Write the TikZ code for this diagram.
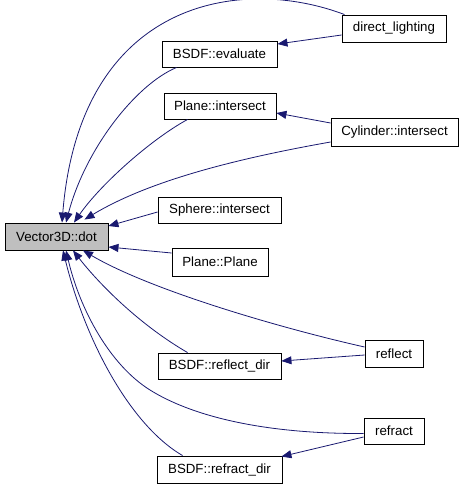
\documentclass[tikz,border=0pt]{standalone}
\usepackage{fontspec}
\setmainfont{Liberation Sans}
\usepackage{tikz}
\usetikzlibrary{arrows.meta,calc}
\definecolor{dxblue}{HTML}{191970}
\definecolor{dxgry}{HTML}{BFBFBF}
\tikzset{
  fnbox/.style  ={draw=black, line width=0.9pt, fill=white, inner sep=0pt,
                  minimum height=27pt, font=\fontsize{13.3}{15}\selectfont},
  rootbox/.style={fnbox, fill=dxgry},
  call/.style   ={-{Triangle[length=10pt,width=8pt]}, line width=0.8pt, draw=dxblue},
}
\begin{document}
\begin{tikzpicture}[x=1pt, y=-1pt]
  \useasboundingbox (0,0) rectangle (464,490);
  % called function
  \node[rootbox, minimum width=103pt] (dot) at (56.5,236.5) {Vector3D::dot};
  % direct callers
  \node[fnbox, minimum width=115pt, minimum height=26pt] (eval) at (219.5,54) {BSDF::evaluate};
  \node[fnbox, minimum width=112pt, minimum height=26pt] (pint) at (220,106) {Plane::intersect};
  \node[fnbox, minimum width=123pt, minimum height=26pt] (sph)  at (219.5,210) {Sphere::intersect};
  \node[fnbox, minimum width=96pt, minimum height=28pt]  (pp)   at (220,262) {Plane::Plane};
  \node[fnbox, minimum width=123pt, minimum height=26pt] (rdir) at (219.5,366) {BSDF::reflect\_dir};
  \node[fnbox, minimum width=125pt] (fdir) at (219.5,469.5) {BSDF::refract\_dir};
  % outer callers
  \node[fnbox, minimum width=104pt] (dl)   at (394,28.5) {direct\_lighting};
  \node[fnbox, minimum width=127pt, minimum height=28pt] (cyl) at (394.5,132) {Cylinder::intersect};
  \node[fnbox, minimum width=58pt]  (refl) at (394,353.5) {reflect};
  \node[fnbox, minimum width=60pt, minimum height=26pt]  (refr) at (394,431) {refract};

  % calls into dot
  \draw[call] ([xshift=3pt]dl.north west) .. controls (240,-25) and (80,0) .. ([xshift=5.5pt]dot.north);
  \draw[call] ([xshift=15pt]eval.south west) .. controls (135,85) and (85,150) .. ([xshift=9.5pt]dot.north);
  \draw[call] ([xshift=24pt]pint.south west) .. controls (150,140) and (100,185) .. ([xshift=17.5pt]dot.north);
  \draw[call] ([yshift=-10pt]cyl.west) .. controls (240,158) and (150,180) .. ([xshift=28pt,yshift=3pt]dot.north);
  \draw[call] ([yshift=-2pt]sph.west) -- ([yshift=10.5pt]dot.east);
  \draw[call] ([yshift=9pt]pp.west) -- ([yshift=-10.5pt]dot.east);
  \draw[call] ([yshift=6.5pt]refl.west) .. controls (280,328) and (150,290) .. ([xshift=26.5pt]dot.south);
  \draw[call] ([xshift=30pt]rdir.north west) .. controls (140,325) and (100,285) .. ([xshift=16.5pt]dot.south);
  \draw[call] ([yshift=-2.5pt]refr.west) .. controls (260,434) and (190,415) .. (150,390)
                                         .. controls (110,365) and (80,310) .. ([xshift=9.5pt]dot.south);
  \draw[call] ([xshift=26pt]fdir.north west) .. controls (130,425) and (85,340) .. ([xshift=6.5pt]dot.south);
  % second level calls
  \draw[call] ([yshift=-6.5pt]dl.west) -- ([yshift=10pt]eval.east);
  \draw[call] ([yshift=9pt]cyl.west) -- ([yshift=-7pt]pint.east);
  \draw[call] ([yshift=-1.5pt]refl.west) -- ([yshift=5pt]rdir.east);
  \draw[call] ([yshift=-6pt]refr.west) -- ([xshift=-1pt,yshift=-1pt]fdir.north east);
\end{tikzpicture}
\end{document}
